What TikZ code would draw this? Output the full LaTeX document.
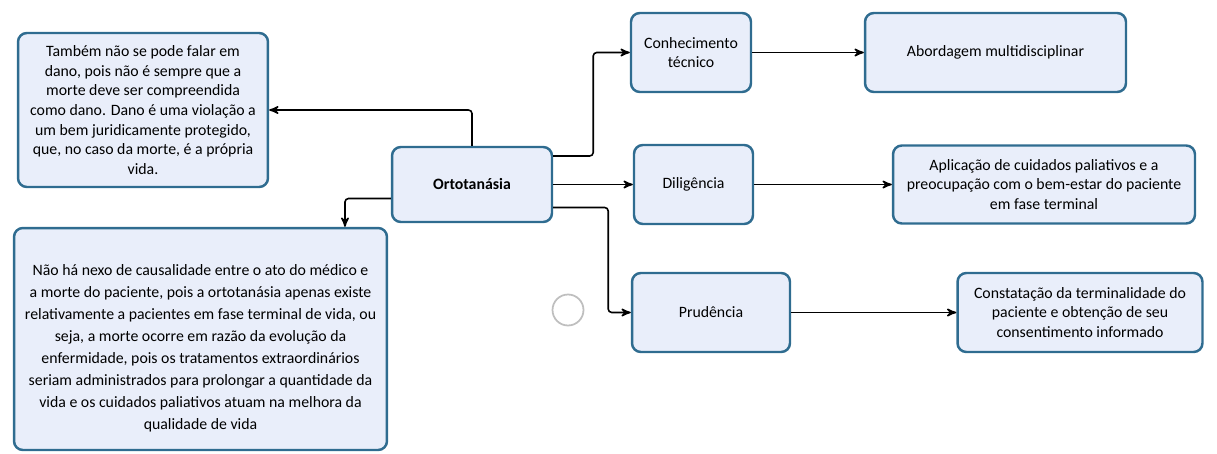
\documentclass[tikz,border=0pt]{standalone}
\usepackage{fontspec}
\setmainfont{Carlito}
\usepackage{xcolor}
\usetikzlibrary{arrows}
\definecolor{boxfill}{HTML}{E9EEFA}
\definecolor{boxline}{HTML}{2F6C90}
\begin{document}
\begin{tikzpicture}[x=.02cm, y=-.02cm,
  box/.style={draw=boxline, fill=boxfill, line width=1.4pt, rounded corners=5pt, align=center,
    inner sep=2pt, font=\fontsize{9}{11.2}\selectfont},
  link/.style={black, line width=.9pt, rounded corners=2pt, ->, >=stealth'}]
\useasboundingbox (0,0) rectangle (1217,453);
\node[box, minimum width=5cm, minimum height=3.08cm] (dano) at (143,110)
  {Também não se pode falar em\\ dano, pois não é sempre que a\\ morte deve ser compreendida\\
   como dano. Dano é uma violação a\\ um bem juridicamente protegido,\\ que, no caso da morte, é a própria\\ vida.};
\node[box, minimum width=3.2cm, minimum height=1.5cm, font=\fontsize{9}{11.2}\selectfont\bfseries] (orto) at (472,184.5) {Ortotanásia};
\node[box, minimum width=2.4cm, minimum height=1.58cm] (conh) at (691,52.5) {Conhecimento\\ técnico};
\node[box, minimum width=2.38cm, minimum height=1.58cm] (dilig) at (693.5,184.5) {Diligência};
\node[box, minimum width=3.16cm, minimum height=1.58cm] (prud) at (711,312.5) {Prudência};
\node[box, minimum width=5.22cm, minimum height=1.58cm] (abord) at (995.5,52.5) {Abordagem multidisciplinar};
\node[box, minimum width=6.04cm, minimum height=1.56cm] (aplic) at (1044,184.5)
  {Aplicação de cuidados paliativos e a\\ preocupação com o bem-estar do paciente\\ em fase terminal};
\node[box, minimum width=4.9cm, minimum height=1.58cm] (const) at (1080,312.5)
  {Constatação da terminalidade do\\ paciente e obtenção de seu\\ consentimento informado};
\node[box, minimum width=7.46cm, minimum height=4.44cm, font=\fontsize{9}{12.5}\selectfont] (nexo) at (200.5,339)
  {\rule{0pt}{17pt}Não há nexo de causalidade entre o ato do médico e\\ a morte do paciente, pois a ortotanásia apenas existe\\
   relativamente a pacientes em fase terminal de vida, ou\\ seja, a morte ocorre em razão da evolução da\\
   enfermidade, pois os tratamentos extraordinários\\ seriam administrados para prolongar a quantidade da\\
   vida e os cuidados paliativos atuam na melhora da\\ qualidade de vida};
\node[draw=black!25, line width=1pt, circle, minimum size=.62cm] (marca) at (568,310) {};
\draw[link] (orto.north) |- (dano.east);
\draw[link] ([yshift=.57cm]orto.east) -- ++(.8cm,0) |- (conh.west);
\draw[link] (orto.east) -- (dilig.west);
\draw[link] ([yshift=-.46cm]orto.east) -- ++(1.1cm,0) |- (prud.west);
\draw[link] ([yshift=-.28cm]orto.west) -| ([xshift=2.89cm]nexo.north);
\draw[link] (conh.east) -- (abord.west);
\draw[link] (dilig.east) -- (aplic.west);
\draw[link] (prud.east) -- (const.west);
\end{tikzpicture}
\end{document}
